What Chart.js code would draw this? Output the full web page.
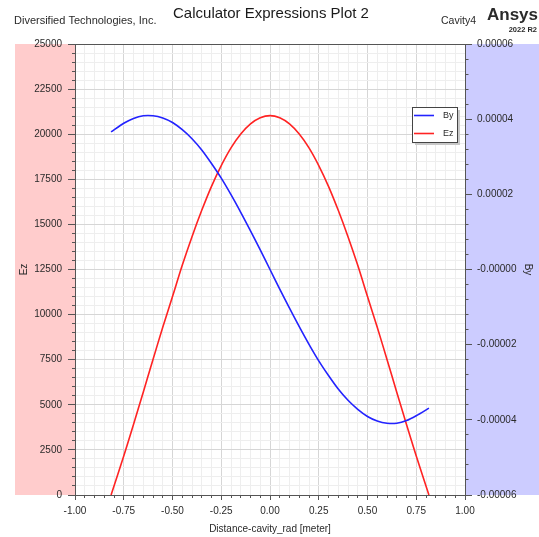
<!DOCTYPE html>
<html>
<head>
<meta charset="utf-8">
<title>Calculator Expressions Plot 2</title>
<script src="https://cdn.jsdelivr.net/npm/chart.js@4.4.1/dist/chart.umd.min.js"></script>
<style>
  html, body { margin: 0; padding: 0; background: #fff; }
  #wrap { width: 539px; height: 537px; }
</style>
</head>
<body>
<div id="wrap"><canvas id="plot" width="539" height="537"></canvas></div>
<script>
// valores
const distance = [-0.815, -0.75, -0.70, -0.65, -0.60, -0.55, -0.50, -0.45, -0.40, -0.35, -0.30, -0.25, -0.20, -0.15, -0.10, -0.05,
  0, 0.05, 0.10, 0.15, 0.20, 0.25, 0.30, 0.35, 0.40, 0.45, 0.50, 0.55, 0.60, 0.65, 0.70, 0.75, 0.815];
const ezValues = [0, 2160, 3910, 5700, 7510, 9300, 11000, 12730, 14320, 15780, 17110, 18260, 19240, 20010, 20570, 20910,
  21030, 20910, 20570, 20010, 19240, 18260, 17110, 15780, 14320, 12730, 11000, 9300, 7510, 5700, 3910, 2160, 0];
const byValues = [3.66e-5, 3.89e-5, 4.02e-5, 4.09e-5, 4.09e-5, 4.03e-5, 3.91e-5, 3.72e-5, 3.48e-5, 3.18e-5, 2.82e-5, 2.43e-5, 1.99e-5, 1.52e-5, 1.03e-5, 0.52e-5,
  0, -0.52e-5, -1.03e-5, -1.52e-5, -1.99e-5, -2.43e-5, -2.82e-5, -3.18e-5, -3.48e-5, -3.72e-5, -3.91e-5, -4.03e-5, -4.09e-5, -4.09e-5, -4.02e-5, -3.89e-5, -3.69e-5];

const xTickLabels = ["-1.00", "-0.75", "-0.50", "-0.25", "0.00", "0.25", "0.50", "0.75", "1.00"];
const ezTickLabels = ["0", "2500", "5000", "7500", "10000", "12500", "15000", "17500", "20000", "22500", "25000"];
const byTickLabels = ["-0.00006", "-0.00004", "-0.00002", "-0.00000", "0.00002", "0.00004", "0.00006"];

const FONT = "'Liberation Sans', Arial, sans-serif";
const TEXT = "#2a2a2a";
const AXIS_DARK = "#555";
const GRID_MAJOR = "#d6d6d6";
const GRID_MINOR = "#eeeeee";

function majorLabel(list) {
  return (value, index) => (index % 5 === 0 ? list[index / 5] : "");
}
function gridColor(ctx) {
  return ctx.index % 5 === 0 ? GRID_MAJOR : GRID_MINOR;
}

function tickMarks(ctx, scale, edge, majorLen, minorLen) {
  ctx.beginPath();
  scale.ticks.forEach((t, i) => {
    const len = i % 5 === 0 ? majorLen : minorLen;
    const p = Math.round(scale.getPixelForValue(t.value) - 0.5) + 0.5;
    if (edge === "left") { ctx.moveTo(scale.right - len, p); ctx.lineTo(scale.right, p); }
    else if (edge === "right") { ctx.moveTo(scale.left, p); ctx.lineTo(scale.left + len, p); }
    else { ctx.moveTo(p, scale.top); ctx.lineTo(p, scale.top + len); }
  });
  ctx.stroke();
}

const moldura = {
  id: "moldura",
  beforeDraw(chart) {
    const { ctx, chartArea: a } = chart;
    ctx.save();
    ctx.fillStyle = "#ffcccc";
    ctx.fillRect(15, a.top, a.left - 15, a.bottom - a.top);
    ctx.fillStyle = "#ccccff";
    ctx.fillRect(a.right, a.top, chart.width - a.right, a.bottom - a.top);
    ctx.restore();
  },
  afterDraw(chart) {
    const { ctx, chartArea: a, scales } = chart;
    ctx.save();
    ctx.strokeStyle = AXIS_DARK;
    ctx.lineWidth = 1;
    tickMarks(ctx, scales.yEz, "left", 7, 3);
    tickMarks(ctx, scales.yBy, "right", 7, 3.5);
    tickMarks(ctx, scales.x, "bottom", 5, 3);
    ctx.beginPath();
    ctx.moveTo(a.left, a.top + 0.5);
    ctx.lineTo(a.right, a.top + 0.5);
    ctx.stroke();

    // cabecalho
    ctx.fillStyle = TEXT;
    ctx.textBaseline = "middle";
    ctx.textAlign = "left";
    ctx.font = "11px " + FONT;
    ctx.fillText("Diversified Technologies, Inc.", 14, 21);
    ctx.fillStyle = "#1a1a1a";
    ctx.textAlign = "center";
    ctx.font = "15px " + FONT;
    ctx.fillText("Calculator Expressions Plot 2", 271, 14);
    ctx.fillStyle = TEXT;
    ctx.textAlign = "left";
    ctx.font = "10.5px " + FONT;
    ctx.fillText("Cavity4", 441, 21);
    ctx.font = "bold 17px " + FONT;
    ctx.fillText("Ansys", 487, 15);
    ctx.textAlign = "right";
    ctx.font = "bold 7.5px " + FONT;
    ctx.fillText("2022 R2", 537, 30);

    // legenda
    const lx = 412, ly = 107, lw = 45, lh = 35;
    ctx.fillStyle = "#c8c8c8";
    ctx.fillRect(lx + 3, ly + 3, lw, lh);
    ctx.fillStyle = "#fff";
    ctx.fillRect(lx, ly, lw, lh);
    ctx.strokeStyle = "#444";
    ctx.strokeRect(lx + 0.5, ly + 0.5, lw, lh);
    ctx.font = "9px " + FONT;
    ctx.textAlign = "left";
    chart.data.datasets.forEach((ds, i) => {
      const y = ly + 8.5 + i * 18;
      ctx.strokeStyle = ds.borderColor;
      ctx.lineWidth = 1.6;
      ctx.beginPath();
      ctx.moveTo(lx + 2, y);
      ctx.lineTo(lx + 22, y);
      ctx.stroke();
      ctx.fillStyle = TEXT;
      ctx.fillText(ds.label, lx + 31, y);
    });
    ctx.restore();
  }
};

new Chart(document.getElementById("plot"), {
  type: "line",
  data: {
    datasets: [
      {
        label: "By",
        data: distance.map((x, i) => ({ x, y: byValues[i] })),
        yAxisID: "yBy",
        borderColor: "rgb(35, 35, 255)"
      },
      {
        label: "Ez",
        data: distance.map((x, i) => ({ x, y: ezValues[i] })),
        yAxisID: "yEz",
        borderColor: "rgb(255, 35, 35)"
      }
    ]
  },
  options: {
    responsive: false,
    animation: false,
    layout: { padding: { top: 44, left: 0, right: 0, bottom: 0 } },
    elements: {
      point: { radius: 0 },
      line: { borderWidth: 1.6, tension: 0.3, fill: false }
    },
    plugins: {
      legend: { display: false },
      tooltip: { enabled: false }
    },
    scales: {
      x: {
        type: "linear",
        min: -1,
        max: 1,
        afterFit: s => { s.height = 42; },
        grid: { color: gridColor, drawTicks: false },
        border: { color: AXIS_DARK },
        ticks: {
          stepSize: 0.05,
          autoSkip: false,
          maxRotation: 0,
          padding: 10,
          color: TEXT,
          font: { family: FONT, size: 10 },
          callback: majorLabel(xTickLabels)
        },
        title: {
          display: true,
          text: "Distance-cavity_rad [meter]",
          color: TEXT,
          font: { family: FONT, size: 10 },
          padding: 2
        }
      },
      yEz: {
        position: "left",
        min: 0,
        max: 25000,
        afterFit: s => { s.width = 75; },
        grid: { color: gridColor, drawTicks: false },
        border: { color: AXIS_DARK },
        ticks: {
          stepSize: 500,
          autoSkip: false,
          padding: 13,
          color: TEXT,
          font: { family: FONT, size: 10 },
          callback: majorLabel(ezTickLabels)
        },
        title: {
          display: true,
          text: "Ez",
          color: TEXT,
          font: { family: FONT, size: 10 },
          padding: 18
        }
      },
      yBy: {
        position: "right",
        min: -0.00006,
        max: 0.00006,
        afterFit: s => { s.width = 74; },
        grid: { drawOnChartArea: false, drawTicks: false },
        border: { color: AXIS_DARK },
        ticks: {
          stepSize: 0.000004,
          autoSkip: false,
          padding: 12,
          color: TEXT,
          font: { family: FONT, size: 10 },
          callback: majorLabel(byTickLabels)
        },
        title: {
          display: true,
          text: "By",
          color: TEXT,
          font: { family: FONT, size: 10 },
          padding: 5
        }
      }
    }
  },
  plugins: [moldura]
});
</script>
</body>
</html>
